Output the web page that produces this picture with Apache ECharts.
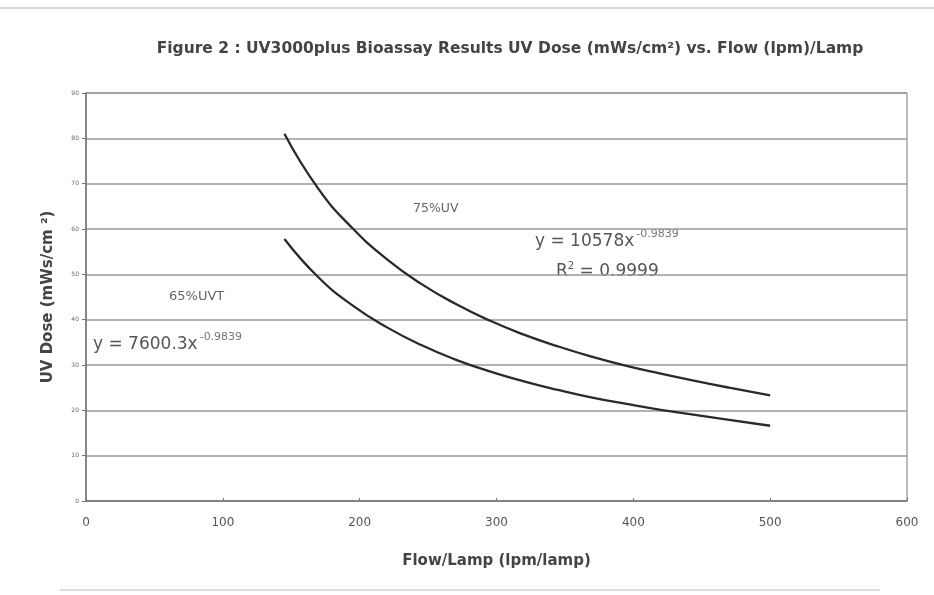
<!DOCTYPE html>
<html><head><meta charset="utf-8">
<script src="https://cdn.jsdelivr.net/npm/echarts@6/dist/echarts.min.js"></script>
<style>html,body{margin:0;padding:0;background:#fff}#c{width:934px;height:595px}</style>
</head><body><div id="c"></div>
<script>
// Values
var flow   = [145, 170, 195, 220, 245, 270, 295, 320, 345, 370, 395, 420, 445, 470, 500];
var dose75 = [81.0, 68.8, 60.1, 53.3, 47.9, 43.5, 39.8, 36.7, 34.1, 31.8, 29.8, 28.1, 26.5, 25.0, 23.3];
var dose65 = [57.8, 49.3, 43.1, 38.3, 34.4, 31.2, 28.6, 26.4, 24.5, 22.8, 21.4, 20.1, 19.0, 17.9, 16.6];
var yTicks = [0, 10, 20, 30, 40, 50, 60, 70, 80, 90];
var xTicks = [0, 100, 200, 300, 400, 500, 600];

function pairs(xs, ys){ return xs.map(function(x,i){ return [x, ys[i]]; }); }

var chart = echarts.init(document.getElementById('c'));
var txt = '#444';
var F = 'DejaVu Sans, Liberation Sans, Arial';
chart.setOption({
  backgroundColor: '#fff',
  animation: false,
  title: {
    text: 'Figure 2 : UV3000plus Bioassay Results UV Dose (mWs/cm\u00B2) vs. Flow (lpm)/Lamp',
    left: 505, top: 36, textAlign: 'center',
    textStyle: {fontFamily: F, fontSize: 15.5, fontWeight: 'bold', color: txt}
  },
  grid: {left: 86, right: 27, top: 93, bottom: 94, show: true, borderColor: '#777', borderWidth: 1},
  xAxis: {
    type: 'value', min: xTicks[0], max: xTicks[xTicks.length-1], interval: 100,
    name: 'Flow/Lamp (lpm/lamp)', nameLocation: 'middle', nameGap: 53,
    nameTextStyle: {fontFamily: F, fontSize: 15, fontWeight: 'bold', color: txt},
    axisLine: {lineStyle: {color: '#777', width: 1.5}},
    axisTick: {show: true, inside: true, length: 3, lineStyle: {color: '#777'}},
    axisLabel: {fontFamily: F, fontSize: 12, color: '#555', margin: 16},
    splitLine: {show: false}
  },
  yAxis: {
    type: 'value', min: yTicks[0], max: yTicks[yTicks.length-1], interval: 10,
    name: 'UV Dose (mWs/cm \u00B2)', nameLocation: 'middle', nameGap: 30, nameRotate: 90,
    nameTextStyle: {fontFamily: F, fontSize: 15, fontWeight: 'bold', color: txt},
    axisLine: {show: true, lineStyle: {color: '#777', width: 1.5}},
    axisTick: {show: true, length: 4, lineStyle: {color: '#777'}},
    axisLabel: {fontFamily: F, fontSize: 6, color: '#666', margin: 7},
    splitLine: {show: true, lineStyle: {color: '#999', width: 1.6}}
  },
  series: [
    {name: '75%UV', type: 'line', smooth: true, showSymbol: false,
     data: pairs(flow, dose75), lineStyle: {color: '#2a2a2a', width: 2.3}},
    {name: '65%UVT', type: 'line', smooth: true, showSymbol: false,
     data: pairs(flow, dose65), lineStyle: {color: '#2a2a2a', width: 2.3}}
  ],
  graphic: [
    {type: 'line', shape: {x1: 0, y1: 8, x2: 934, y2: 8}, style: {stroke: '#aaa', lineWidth: 1}},
    {type: 'line', shape: {x1: 60, y1: 590, x2: 880, y2: 590}, style: {stroke: '#bbb', lineWidth: 1}},
    {type: 'text', left: 413, top: 202, style: {text: '75%UV', font: '12.5px ' + F, fill: '#666'}},
    {type: 'text', left: 169, top: 290, style: {text: '65%UVT', font: '13px ' + F, fill: '#666'}},
    {type: 'text', left: 535, top: 229, style: {
      text: '{n|y = 10578x}{s|-0.9839}',
      rich: {n: {fontSize: 17, fontFamily: F, fill: '#555'},
             s: {fontSize: 11, fontFamily: F, fill: '#777', padding: [0,0,14,2]}}
    }},
    {type: 'text', left: 556, top: 261, style: {
      text: '{n|R}{s|2}{n| = 0.9999}',
      rich: {n: {fontSize: 17, fontFamily: F, fill: '#555'},
             s: {fontSize: 10, fontFamily: F, fill: '#555', padding: [0,0,12,0]}}
    }},
    {type: 'text', left: 93, top: 332, style: {
      text: '{n|y = 7600.3x}{s|-0.9839}',
      rich: {n: {fontSize: 17, fontFamily: F, fill: '#555'},
             s: {fontSize: 11, fontFamily: F, fill: '#777', padding: [0,0,14,2]}}
    }}
  ]
});
</script></body></html>
